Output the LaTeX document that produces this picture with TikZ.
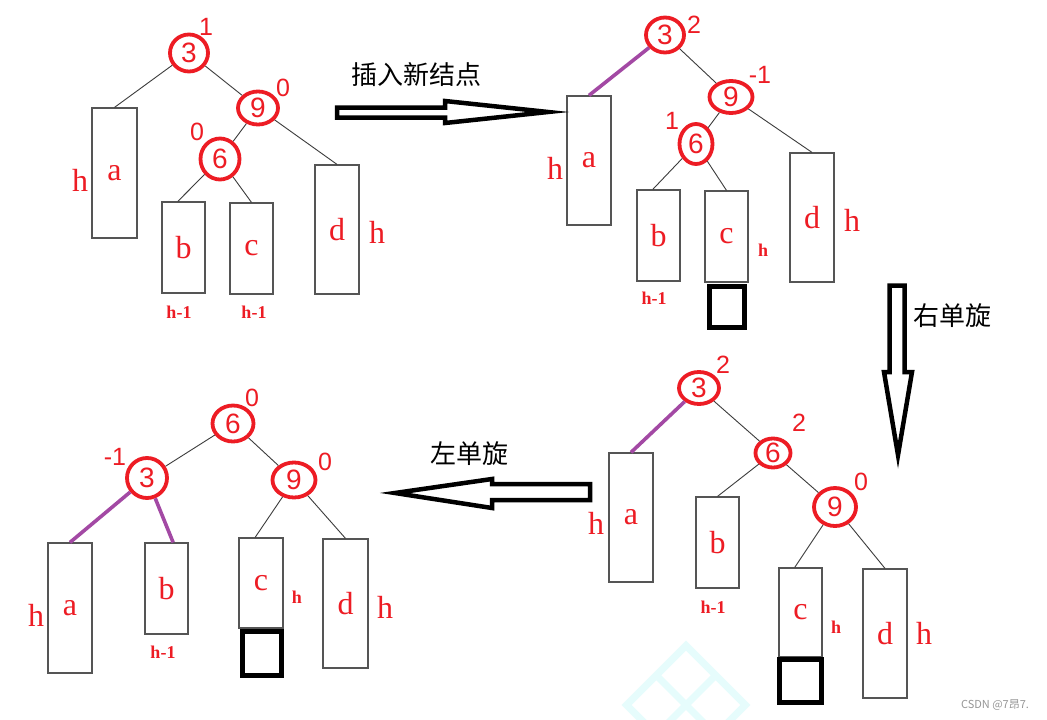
\documentclass[tikz,border=0pt]{standalone}
\usepackage{fontspec}
\setmainfont{Liberation Serif}
\setsansfont{Liberation Sans}
\newfontfamily\cjk{Noto Sans CJK SC}
\usetikzlibrary{shapes.geometric,calc}
\definecolor{pred}{RGB}{237,28,36}
\definecolor{ppur}{RGB}{163,73,164}
\definecolor{bgray}{RGB}{85,85,85}
\definecolor{egray}{RGB}{60,60,60}
\definecolor{wmcyan}{RGB}{230,252,252}
\definecolor{sgray}{RGB}{150,150,150}
\begin{document}
\begin{tikzpicture}[x=1pt,y=-1pt,
 key/.style={ellipse,draw=pred,line width=3.8pt,inner sep=0pt,text=pred,font=\sffamily\fontsize{28}{28}\selectfont},
 bal/.style={text=pred,inner sep=0pt,font=\sffamily\fontsize{25}{25}\selectfont},
 sub/.style={rectangle,draw=bgray,line width=1.2pt,inner sep=0pt,text=pred,font=\fontsize{32}{32}\selectfont},
 hbig/.style={text=pred,inner sep=0pt,font=\fontsize{32}{32}\selectfont},
 hsmall/.style={text=pred,inner sep=0pt,font=\bfseries\fontsize{18}{18}\selectfont},
 edge/.style={draw=egray,line width=0.9pt},
 pedge/.style={draw=ppur,line width=3.6pt},
 newbox/.style={rectangle,draw=black,line width=4.8pt,inner sep=0pt},
 barrow/.style={draw=black,fill=white,line width=4.5pt,line join=miter},
 cn/.style={inner sep=0pt,font=\cjk\fontsize{26}{26}\selectfont},
]
\fill[white] (0,0) rectangle (1047,720);
\useasboundingbox (0,0) rectangle (1047,720);

% watermark
\begin{scope}[shift={(686,705)},rotate=45]
 \draw[wmcyan,line width=7pt] (-42,-42) rectangle (42,42) (0,-42) -- (0,42) (-42,0) -- (42,0);
\end{scope}

% ---------------- Tree 1 (top left)
\node[key,minimum width=38pt,minimum height=37pt] (t1n3) at (189,53) {3};
\node[key,minimum width=40pt,minimum height=33pt] (t1n9) at (258,108) {9};
\node[key,minimum width=39pt,minimum height=41pt] (t1n6) at (220,159) {6};
\node[bal] (t1b3) at (206,27) {1};
\node[bal] (t1b9) at (283,88) {0};
\node[bal] (t1b6) at (197,132) {0};
\node[sub,minimum width=45pt,minimum height=130pt] (t1a) at (114.5,173) {a};
\node[sub,minimum width=43pt,minimum height=91pt] (t1b) at (183.5,247.5) {b};
\node[sub,minimum width=43pt,minimum height=91pt] (t1c) at (251.5,248.5) {c};
\node[sub,minimum width=44pt,minimum height=129pt] (t1d) at (337,229.5) {d};
\node[hbig] (t1ha) at (80,180) {h};
\node[hbig] (t1hd) at (377,232) {h};
\node[hsmall] (t1hb) at (179,312) {h-1};
\node[hsmall] (t1hc) at (254,312) {h-1};
\draw[edge] (t1n3) -- (t1a.north);
\draw[edge] (t1n3) -- (t1n9);
\draw[edge] (t1n9) -- (t1n6);
\draw[edge] (t1n9) -- (t1d.north);
\draw[edge] (t1n6) -- ($(t1b.north west)!0.37!(t1b.north east)$);
\draw[edge] (t1n6) -- (t1c.north);

% ---------------- Tree 2 (top right)
\node[key,minimum width=38pt,minimum height=35pt] (t2n3) at (665,35) {3};
\node[key,minimum width=43pt,minimum height=32pt] (t2n9) at (731,97) {9};
\node[key,minimum width=33pt,minimum height=40pt] (t2n6) at (696,144) {6};
\node[bal] (t2b3) at (694,25) {2};
\node[bal] (t2b9) at (760,75) {-1};
\node[bal] (t2b6) at (672,121) {1};
\node[sub,minimum width=44pt,minimum height=129pt] (t2a) at (589,160.5) {a};
\node[sub,minimum width=43pt,minimum height=91pt] (t2b) at (658.5,235.5) {b};
\node[sub,minimum width=43pt,minimum height=91pt] (t2c) at (726.5,236.5) {c};
\node[sub,minimum width=44pt,minimum height=129pt] (t2d) at (812,217.5) {d};
\node[newbox,minimum width=35pt,minimum height=41pt] (t2new) at (727,307) {};
\node[hbig] (t2ha) at (555,168) {h};
\node[hbig] (t2hd) at (852,220) {h};
\node[hsmall] (t2hc) at (763,250) {h};
\node[hsmall] (t2hb) at (654,298) {h-1};
\draw[pedge] (t2n3) -- (t2a.north);
\draw[edge] (t2n3) -- (t2n9);
\draw[edge] (t2n9) -- (t2n6);
\draw[edge] (t2n9) -- (t2d.north);
\draw[edge] (t2n6) -- ($(t2b.north west)!0.37!(t2b.north east)$);
\draw[edge] (t2n6) -- (t2c.north);

% ---------------- Tree 3 (bottom right)
\node[key,minimum width=40pt,minimum height=32pt] (t3n3) at (699,388) {3};
\node[key,minimum width=35pt,minimum height=29pt] (t3n6) at (773,453) {6};
\node[key,minimum width=42pt,minimum height=38pt] (t3n9) at (835,507) {9};
\node[bal] (t3b3) at (723,365) {2};
\node[bal] (t3b6) at (799,423) {2};
\node[bal] (t3b9) at (861,482) {0};
\node[sub,minimum width=44pt,minimum height=129pt] (t3a) at (631,517.5) {a};
\node[sub,minimum width=43pt,minimum height=91pt] (t3b) at (717.5,542.5) {b};
\node[sub,minimum width=43pt,minimum height=89pt] (t3c) at (800.5,612.5) {c};
\node[sub,minimum width=44pt,minimum height=129pt] (t3d) at (885,633.5) {d};
\node[newbox,minimum width=42pt,minimum height=43pt] (t3new) at (800.5,681) {};
\node[hbig] (t3ha) at (596,523) {h};
\node[hbig] (t3hd) at (924,633) {h};
\node[hsmall] (t3hc) at (836,627) {h};
\node[hsmall] (t3hb) at (713,607) {h-1};
\draw[pedge] (t3n3) -- (t3a.north);
\draw[edge] (t3n3) -- (t3n6);
\draw[edge] (t3n6) -- (t3b.north);
\draw[edge] (t3n6) -- (t3n9);
\draw[edge] (t3n9) -- ($(t3c.north west)!0.37!(t3c.north east)$);
\draw[edge] (t3n9) -- (t3d.north);

% ---------------- Tree 4 (bottom left)
\node[key,minimum width=41pt,minimum height=36pt] (t4n6) at (233,423.5) {6};
\node[key,minimum width=40pt,minimum height=40pt] (t4n3) at (147,478) {3};
\node[key,minimum width=43pt,minimum height=35pt] (t4n9) at (294,480) {9};
\node[bal] (t4b6) at (252,398) {0};
\node[bal] (t4b3) at (115,457) {-1};
\node[bal] (t4b9) at (325,462) {0};
\node[sub,minimum width=44pt,minimum height=130pt] (t4a) at (70,608) {a};
\node[sub,minimum width=43pt,minimum height=91pt] (t4b) at (166.5,588.5) {b};
\node[sub,minimum width=44pt,minimum height=90pt] (t4c) at (261,583) {c};
\node[sub,minimum width=45pt,minimum height=129pt] (t4d) at (345.5,603.5) {d};
\node[newbox,minimum width=39pt,minimum height=44pt] (t4new) at (262,653.5) {};
\node[hbig] (t4ha) at (36,615) {h};
\node[hbig] (t4hd) at (385,607) {h};
\node[hsmall] (t4hc) at (297,597) {h};
\node[hsmall] (t4hb) at (163,652) {h-1};
\draw[edge] (t4n6) -- (t4n3);
\draw[edge] (t4n6) -- (t4n9);
\draw[pedge] (t4n3) -- (t4a.north);
\draw[pedge] (t4n3) -- ($(t4b.north west)!0.65!(t4b.north east)$);
\draw[edge] (t4n9) -- ($(t4c.north west)!0.37!(t4c.north east)$);
\draw[edge] (t4n9) -- (t4d.north);

% ---------------- block arrows and their labels
\draw[barrow] (337,107.5) -- (445,107.5) -- (445,101) -- (548,112) -- (445,123) -- (445,117.5) -- (337,117.5) -- cycle;
\node[cn] (lbl1) at (416,75) {插入新结点};
\draw[barrow] (889.5,285.5) -- (904.5,285.5) -- (904.5,372) -- (912,372) -- (898,455) -- (884,372) -- (889.5,372) -- cycle;
\node[cn] (lbl2) at (952,316) {右单旋};
\draw[barrow] (590,484) -- (492,484) -- (492,479) -- (395,493) -- (492,508) -- (492,500) -- (590,500) -- cycle;
\node[cn] (lbl3) at (469,454) {左单旋};

\node[inner sep=0pt,text=sgray,font=\cjk\fontsize{11}{11}\selectfont] (mark) at (995,705) {CSDN @7昂7.};
\end{tikzpicture}
\end{document}
